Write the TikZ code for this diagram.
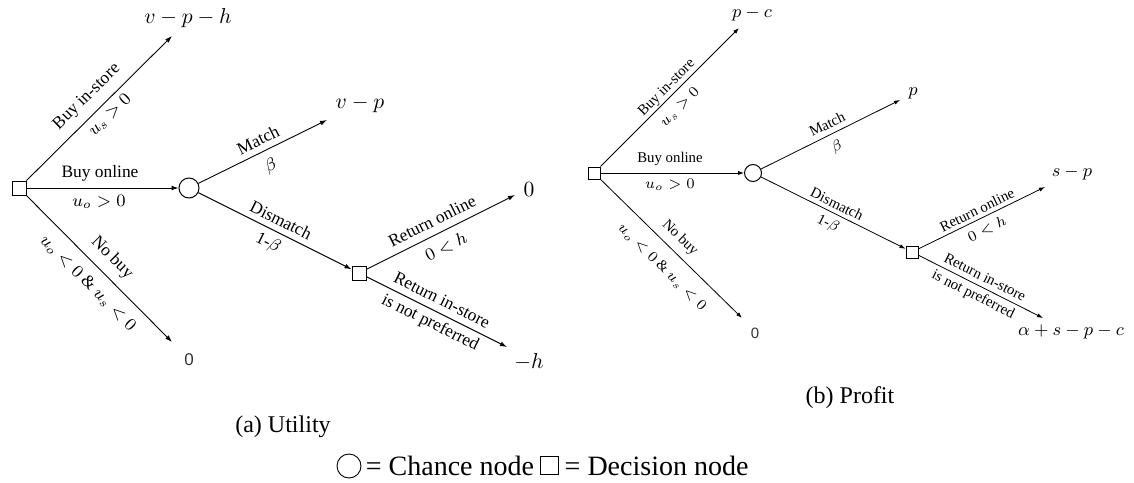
\RequirePackage{fix-cm}
\documentclass[tikz,border=0pt]{standalone}
\usepackage[no-math]{fontspec}
\setmainfont{Liberation Serif}
\newfontfamily\sansz{Liberation Sans}
\usetikzlibrary{arrows.meta}
\begin{document}
\begin{tikzpicture}[x=0.5pt,y=-0.5pt,
  dec/.style={draw, rectangle, minimum size=7pt, inner sep=0pt, line width=0.5pt},
  decr/.style={dec, minimum size=6pt},
  chance/.style={draw, circle, minimum size=10pt, inner sep=0pt, line width=0.5pt},
  chancer/.style={chance, minimum size=8.5pt},
  arrA/.style={line width=0.45pt, -{Latex[length=3.5pt,width=2.4pt]}},
  arrB/.style={line width=0.4pt, -{Latex[length=3pt,width=2.1pt]}},
  lblA/.style={inner sep=0pt, font=\fontsize{8.7}{10}\selectfont},
  lblB/.style={inner sep=0pt, font=\fontsize{7.4}{9}\selectfont},
  endA/.style={inner sep=0pt, font=\fontsize{10.8}{12}\selectfont},
  endB/.style={inner sep=0pt, font=\fontsize{9}{11}\selectfont},
  zeroS/.style={inner sep=0pt, text=black!80, font=\sansz\fontsize{7.5}{9}\selectfont},
  capt/.style={inner sep=0pt, font=\fontsize{12}{14}\selectfont},
  legd/.style={inner sep=0pt, font=\fontsize{14}{16}\selectfont}]
\useasboundingbox (0,0) rectangle (1134,482);

% ---------------- (a) Utility ----------------
\node[dec] (A1) at (19,188) {};
\node[chance] (A2) at (189,188) {};
\node[dec] (A3) at (359,273) {};
\coordinate (tA1) at (172,36);
\coordinate (tA2) at (327,120);
\coordinate (tA3) at (515,195);
\coordinate (tA4) at (507,347);
\coordinate (tA5) at (172,342);
\draw[arrA] (A1) -- (tA1);
\draw[arrA] (A1) -- (A2);
\draw[arrA] (A1) -- (tA5);
\draw[arrA] (A2) -- (tA2);
\draw[arrA] (A2) -- (A3);
\draw[arrA] (A3) -- (tA3);
\draw[arrA] (A3) -- (tA4);

\node[endA] (eA1) at (188,18) {$v-p-h$};
\node[endA] (eA2) at (360,104) {$v-p$};
\node[endA] (eA3) at (529,190) {$0$};
\node[endA] (eA4) at (529,362) {$-h$};
\node[zeroS, font=\sansz\fontsize{8.5}{10}\selectfont] (eA5) at (189,360) {0};

\node[lblA, rotate=44.4] (lA1) at (87,97) {Buy in-store};
\node[lblA, rotate=44.4] (lA2) at (110,115) {$u_s>0$};
\node[lblA] (lA3) at (100,173) {Buy online};
\node[lblA] (lA4) at (99,202) {$u_o>0$};
\node[lblA, rotate=26.2] (lA5) at (258,140) {Match};
\node[lblA, rotate=26.2] (lA6) at (271,166) {$\beta$};
\node[lblA, rotate=-26.6] (lA7) at (281,220) {Dismatch};
\node[lblA, rotate=-26.6] (lA8) at (268,243) {1-$\beta$};
\node[lblA, rotate=26.6] (lA9) at (432,221) {Return online};
\node[lblA, rotate=26.6] (lA10) at (446,247) {$0<h$};
\node[lblA, rotate=-26.6] (lA11) at (442,300) {Return in-store};
\node[lblA, rotate=-26.6] (lA12) at (430,323) {is not preferred};
\node[lblA, rotate=-45] (lA13) at (112,258) {No buy};
\node[lblA, rotate=-45] (lA14) at (88,283) {$u_o<0$ \& $u_s<0$};

% ---------------- (b) Profit ----------------
\node[decr] (B1) at (594,173) {};
\node[chancer] (B2) at (753,173) {};
\node[decr] (B3) at (912,252) {};
\coordinate (tB1) at (739,28);
\coordinate (tB2) at (900,100);
\coordinate (tB3) at (1045,187);
\coordinate (tB4) at (1043,318);
\coordinate (tB5) at (742,318);
\draw[arrB] (B1) -- (tB1);
\draw[arrB] (B1) -- (B2);
\draw[arrB] (B1) -- (tB5);
\draw[arrB] (B2) -- (tB2);
\draw[arrB] (B2) -- (B3);
\draw[arrB] (B3) -- (tB3);
\draw[arrB] (B3) -- (tB4);

\node[endB] (eB1) at (752,14) {$p-c$};
\node[endB] (eB2) at (913,93) {$p$};
\node[endB] (eB3) at (1072,173) {$s-p$};
\node[endB] (eB4) at (1071,332) {$\alpha+s-p-c$};
\node[zeroS] (eB5) at (755,333) {0};

\node[lblB, rotate=45] (lB1) at (667,88) {Buy in-store};
\node[lblB, rotate=45] (lB2) at (680,107) {$u_s>0$};
\node[lblB] (lB3) at (670,159) {Buy online};
\node[lblB] (lB4) at (670,185) {$u_o>0$};
\node[lblB, rotate=26.4] (lB5) at (827,124) {Match};
\node[lblB, rotate=26.4] (lB6) at (837,147) {$\beta$};
\node[lblB, rotate=-26.4] (lB7) at (837,204) {Dismatch};
\node[lblB, rotate=-26.4] (lB8) at (828,224) {1-$\beta$};
\node[lblB, rotate=26] (lB9) at (977,210) {Return online};
\node[lblB, rotate=26] (lB10) at (987,229) {$0<h$};
\node[lblB, rotate=-26.7] (lB11) at (985,277) {Return in-store};
\node[lblB, rotate=-26.7] (lB12) at (973,295) {is not preferred};
\node[lblB, rotate=-44.4] (lB13) at (680,238) {No buy};
\node[lblB, rotate=-44.4] (lB14) at (662,267) {$u_o<0$ \& $u_s<0$};

% ---------------- captions and legend ----------------
\node[capt] (cA) at (283,427) {(a)~Utility};
\node[capt] (cB) at (850,398) {(b)~Profit};

\node[draw, circle, minimum size=12pt, inner sep=0pt, line width=0.45pt] (lgC) at (349,466) {};
\node[legd, anchor=west] (lgT1) at ([xshift=2pt]lgC.east) {= Chance node};
\node[draw, rectangle, minimum size=9pt, inner sep=0pt, line width=0.45pt, anchor=west] (lgS) at ([xshift=3pt,yshift=0.5pt]lgT1.east) {};
\node[legd, anchor=west] (lgT2) at ([xshift=2.5pt,yshift=-0.5pt]lgS.east) {= Decision node};
\end{tikzpicture}
\end{document}
